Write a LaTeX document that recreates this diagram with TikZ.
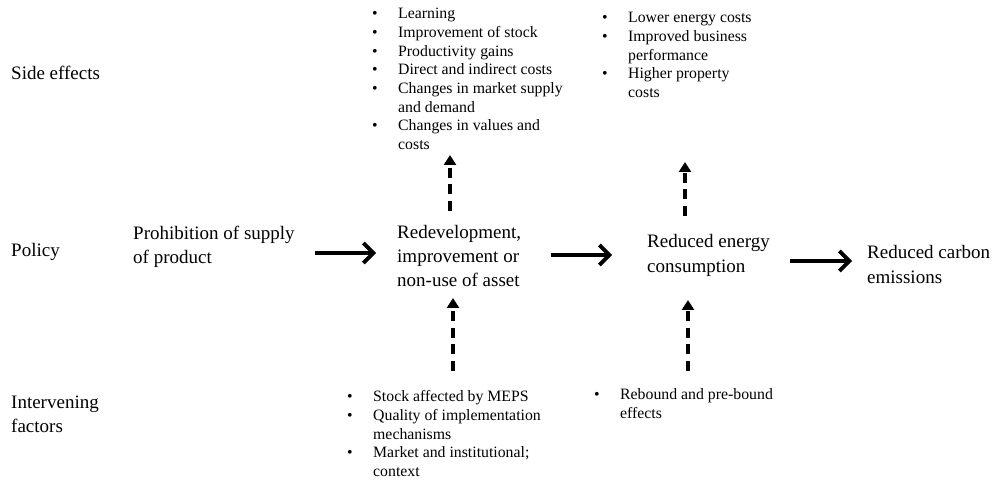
\documentclass[tikz,border=0pt]{standalone}
\usepackage{fontspec}
\setmainfont{Liberation Serif}
\usetikzlibrary{arrows.meta}
\newcommand{\blist}[1]{\begin{tabular}{@{}p{26pt}@{}l@{}}#1\end{tabular}}
\begin{document}
\begin{tikzpicture}[x=1pt,y=-1pt,
  main/.style={anchor=west, align=left, inner sep=0pt, font=\fontsize{19}{24.3}\selectfont},
  lst/.style={anchor=north west, inner sep=0pt, font=\fontsize{15.8}{18.7}\selectfont},
  flow/.style={line width=4pt, -{Straight Barb[length=10pt,width=20pt,line width=3.8pt]}},
  infl/.style={line width=3.4pt, dash pattern=on 10pt off 6.5pt, -{Triangle[length=10pt,width=12pt]}}]
\useasboundingbox (0,0) rectangle (997,481);

% row labels
\node[main] (side) at (11,73) {Side effects};
\node[main] (policy) at (11,252) {Policy};
\node[main] (interv) at (11,414.5) {Intervening\\factors};

% policy chain
\node[main] (prohib) at (133,247) {Prohibition of supply\\of product};
\node[main] (redev) at (397,256) {Redevelopment,\\improvement or\\non-use of asset};
\node[main] (energy) at (647,255.5) {Reduced energy\\consumption};
\node[main] (carbon) at (867,264.5) {Reduced carbon\\emissions};

% side effect lists
\node[lst] (se1) at (372,5.5) {\blist{%
  \textbullet & Learning\\
  \textbullet & Improvement of stock\\
  \textbullet & Productivity gains\\
  \textbullet & Direct and indirect costs\\
  \textbullet & Changes in market supply\\
              & and demand\\
  \textbullet & Changes in values and\\
              & costs}};
\node[lst] (se2) at (602,9.5) {\blist{%
  \textbullet & Lower energy costs\\
  \textbullet & Improved business\\
              & performance\\
  \textbullet & Higher property\\
              & costs}};

% intervening factor lists
\node[lst] (if1) at (347,388.5) {\blist{%
  \textbullet & Stock affected by MEPS\\
  \textbullet & Quality of implementation\\
              & mechanisms\\
  \textbullet & Market and institutional;\\
              & context}};
\node[lst] (if2) at (594,386.5) {\blist{%
  \textbullet & Rebound and pre-bound\\
              & effects}};

% arrow end points
\coordinate (a1s) at (315,253); \coordinate (a1e) at (376,253);
\coordinate (a2s) at (551,255); \coordinate (a2e) at (612,255);
\coordinate (a3s) at (790,261); \coordinate (a3e) at (852,261);
\coordinate (d1s) at (450,211); \coordinate (d1e) at (450,155);
\coordinate (d2s) at (685,216); \coordinate (d2e) at (685,162);
\coordinate (d3s) at (453,371); \coordinate (d3e) at (453,298);
\coordinate (d4s) at (688,371); \coordinate (d4e) at (688,300);

\draw[flow] (a1s) -- (a1e);
\draw[flow] (a2s) -- (a2e);
\draw[flow] (a3s) -- (a3e);
\draw[infl] (d1s) -- (d1e);
\draw[infl] (d2s) -- (d2e);
\draw[infl] (d3s) -- (d3e);
\draw[infl] (d4s) -- (d4e);
\end{tikzpicture}
\end{document}
